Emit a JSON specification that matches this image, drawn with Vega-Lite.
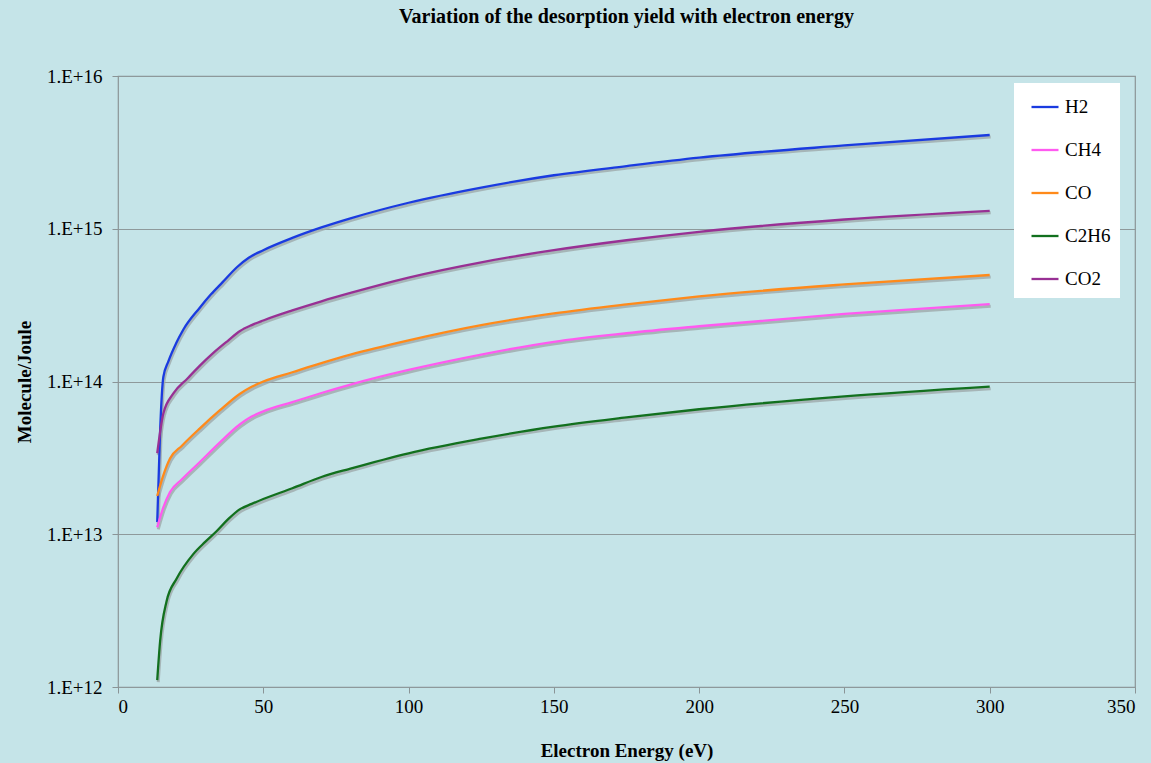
{
  "$schema": "https://vega.github.io/schema/vega-lite/v6.json",
  "width": 1017,
  "height": 611,
  "autosize": "none",
  "padding": {"left": 118, "top": 76, "right": 16, "bottom": 76},
  "background": "#c5e4e8",
  "config": {
    "view": {"stroke": "#8a9496", "strokeWidth": 1.2},
    "font": "Liberation Serif",
    "axis": {"labelFont": "Liberation Serif", "titleFont": "Liberation Serif"},
    "legend": {"labelFont": "Liberation Serif"},
    "title": {"font": "Liberation Serif"}
  },
  "title": {
    "text": "Variation of the desorption yield with electron energy",
    "font": "Liberation Serif",
    "fontSize": 20,
    "fontWeight": "bold",
    "color": "#000000",
    "anchor": "middle",
    "offset": 40
  },
  "data": {
    "values": [
      {"gas": "H2", "energy": 13.5, "yield": 1.20e13},
      {"gas": "H2", "energy": 14.5, "yield": 4.79e13},
      {"gas": "H2", "energy": 15.6, "yield": 1.07e14},
      {"gas": "H2", "energy": 17.3, "yield": 1.35e14},
      {"gas": "H2", "energy": 20, "yield": 1.78e14},
      {"gas": "H2", "energy": 22.5, "yield": 2.19e14},
      {"gas": "H2", "energy": 28, "yield": 3.02e14},
      {"gas": "H2", "energy": 32, "yield": 3.72e14},
      {"gas": "H2", "energy": 36, "yield": 4.47e14},
      {"gas": "H2", "energy": 41, "yield": 5.62e14},
      {"gas": "H2", "energy": 45, "yield": 6.46e14},
      {"gas": "H2", "energy": 50, "yield": 7.24e14},
      {"gas": "H2", "energy": 60, "yield": 8.71e14},
      {"gas": "H2", "energy": 70, "yield": 1.02e15},
      {"gas": "H2", "energy": 80, "yield": 1.17e15},
      {"gas": "H2", "energy": 100, "yield": 1.48e15},
      {"gas": "H2", "energy": 125, "yield": 1.86e15},
      {"gas": "H2", "energy": 150, "yield": 2.24e15},
      {"gas": "H2", "energy": 175, "yield": 2.57e15},
      {"gas": "H2", "energy": 200, "yield": 2.92e15},
      {"gas": "H2", "energy": 250, "yield": 3.51e15},
      {"gas": "H2", "energy": 300, "yield": 4.11e15},

      {"gas": "CH4", "energy": 13.5, "yield": 1.11e13},
      {"gas": "CH4", "energy": 15.5, "yield": 1.48e13},
      {"gas": "CH4", "energy": 17.9, "yield": 1.89e13},
      {"gas": "CH4", "energy": 22, "yield": 2.29e13},
      {"gas": "CH4", "energy": 28, "yield": 2.95e13},
      {"gas": "CH4", "energy": 35, "yield": 3.98e13},
      {"gas": "CH4", "energy": 42, "yield": 5.25e13},
      {"gas": "CH4", "energy": 46, "yield": 5.89e13},
      {"gas": "CH4", "energy": 50, "yield": 6.38e13},
      {"gas": "CH4", "energy": 60, "yield": 7.33e13},
      {"gas": "CH4", "energy": 70, "yield": 8.41e13},
      {"gas": "CH4", "energy": 80, "yield": 9.55e13},
      {"gas": "CH4", "energy": 100, "yield": 1.19e14},
      {"gas": "CH4", "energy": 125, "yield": 1.50e14},
      {"gas": "CH4", "energy": 150, "yield": 1.82e14},
      {"gas": "CH4", "energy": 175, "yield": 2.07e14},
      {"gas": "CH4", "energy": 200, "yield": 2.30e14},
      {"gas": "CH4", "energy": 250, "yield": 2.77e14},
      {"gas": "CH4", "energy": 300, "yield": 3.21e14},

      {"gas": "CO", "energy": 13.5, "yield": 1.78e13},
      {"gas": "CO", "energy": 15.5, "yield": 2.40e13},
      {"gas": "CO", "energy": 17.9, "yield": 3.13e13},
      {"gas": "CO", "energy": 22, "yield": 3.80e13},
      {"gas": "CO", "energy": 28, "yield": 4.90e13},
      {"gas": "CO", "energy": 35, "yield": 6.46e13},
      {"gas": "CO", "energy": 42, "yield": 8.32e13},
      {"gas": "CO", "energy": 46, "yield": 9.23e13},
      {"gas": "CO", "energy": 50, "yield": 1.00e14},
      {"gas": "CO", "energy": 60, "yield": 1.15e14},
      {"gas": "CO", "energy": 70, "yield": 1.32e14},
      {"gas": "CO", "energy": 80, "yield": 1.50e14},
      {"gas": "CO", "energy": 100, "yield": 1.86e14},
      {"gas": "CO", "energy": 125, "yield": 2.34e14},
      {"gas": "CO", "energy": 150, "yield": 2.79e14},
      {"gas": "CO", "energy": 175, "yield": 3.20e14},
      {"gas": "CO", "energy": 200, "yield": 3.61e14},
      {"gas": "CO", "energy": 250, "yield": 4.32e14},
      {"gas": "CO", "energy": 300, "yield": 4.98e14},

      {"gas": "C2H6", "energy": 13.5, "yield": 1.11e12},
      {"gas": "C2H6", "energy": 14.5, "yield": 2.00e12},
      {"gas": "C2H6", "energy": 16.7, "yield": 3.63e12},
      {"gas": "C2H6", "energy": 20.2, "yield": 5.13e12},
      {"gas": "C2H6", "energy": 25.9, "yield": 7.41e12},
      {"gas": "C2H6", "energy": 30, "yield": 8.91e12},
      {"gas": "C2H6", "energy": 34, "yield": 1.05e13},
      {"gas": "C2H6", "energy": 38, "yield": 1.26e13},
      {"gas": "C2H6", "energy": 42, "yield": 1.46e13},
      {"gas": "C2H6", "energy": 46, "yield": 1.58e13},
      {"gas": "C2H6", "energy": 50, "yield": 1.70e13},
      {"gas": "C2H6", "energy": 60, "yield": 2.00e13},
      {"gas": "C2H6", "energy": 70, "yield": 2.37e13},
      {"gas": "C2H6", "energy": 80, "yield": 2.69e13},
      {"gas": "C2H6", "energy": 100, "yield": 3.39e13},
      {"gas": "C2H6", "energy": 125, "yield": 4.22e13},
      {"gas": "C2H6", "energy": 150, "yield": 5.07e13},
      {"gas": "C2H6", "energy": 175, "yield": 5.82e13},
      {"gas": "C2H6", "energy": 200, "yield": 6.58e13},
      {"gas": "C2H6", "energy": 250, "yield": 7.98e13},
      {"gas": "C2H6", "energy": 300, "yield": 9.25e13},

      {"gas": "CO2", "energy": 13.5, "yield": 3.39e13},
      {"gas": "CO2", "energy": 15.6, "yield": 6.17e13},
      {"gas": "CO2", "energy": 19, "yield": 8.32e13},
      {"gas": "CO2", "energy": 24, "yield": 1.05e14},
      {"gas": "CO2", "energy": 28, "yield": 1.26e14},
      {"gas": "CO2", "energy": 33, "yield": 1.55e14},
      {"gas": "CO2", "energy": 38, "yield": 1.86e14},
      {"gas": "CO2", "energy": 42, "yield": 2.14e14},
      {"gas": "CO2", "energy": 46, "yield": 2.34e14},
      {"gas": "CO2", "energy": 50, "yield": 2.51e14},
      {"gas": "CO2", "energy": 60, "yield": 2.92e14},
      {"gas": "CO2", "energy": 70, "yield": 3.35e14},
      {"gas": "CO2", "energy": 80, "yield": 3.80e14},
      {"gas": "CO2", "energy": 100, "yield": 4.79e14},
      {"gas": "CO2", "energy": 125, "yield": 6.03e14},
      {"gas": "CO2", "energy": 150, "yield": 7.24e14},
      {"gas": "CO2", "energy": 175, "yield": 8.41e14},
      {"gas": "CO2", "energy": 200, "yield": 9.55e14},
      {"gas": "CO2", "energy": 250, "yield": 1.15e15},
      {"gas": "CO2", "energy": 300, "yield": 1.31e15}
    ]
  },
  "encoding": {
    "x": {
      "field": "energy",
      "type": "quantitative",
      "scale": {"domain": [0, 350], "nice": false, "zero": false},
      "axis": {
        "title": "Electron Energy (eV)",
        "values": [0, 50, 100, 150, 200, 250, 300, 350],
        "grid": false,
        "domain": false,
        "tickSize": 6,
        "tickColor": "#8a9496",
        "labelFont": "Liberation Serif",
        "labelFontSize": 19,
        "labelColor": "#000000",
        "labelPadding": 4,
        "titleFont": "Liberation Serif",
        "titleFontSize": 19,
        "titleFontWeight": "bold",
        "titleColor": "#000000",
        "titlePadding": 25
      }
    },
    "y": {
      "field": "yield",
      "type": "quantitative",
      "scale": {"type": "log", "domain": [1e12, 1e16], "nice": false},
      "axis": {
        "title": "Molecule/Joule",
        "values": [1e12, 1e13, 1e14, 1e15, 1e16],
        "labelExpr": "'1.E+' + round(log(datum.value) / LN10)",
        "grid": true,
        "gridColor": "#8e999b",
        "gridWidth": 1,
        "domain": false,
        "tickSize": 6,
        "tickColor": "#8a9496",
        "labelFont": "Liberation Serif",
        "labelFontSize": 19,
        "labelColor": "#000000",
        "labelPadding": 10,
        "titleFont": "Liberation Serif",
        "titleFontSize": 19,
        "titleFontWeight": "bold",
        "titleColor": "#000000",
        "titlePadding": 12
      }
    }
  },
  "layer": [
    {
      "mark": {"type": "line", "interpolate": "monotone", "stroke": "#9ba5a7", "strokeWidth": 3, "xOffset": 1, "yOffset": 2, "opacity": 0.75},
      "encoding": {"detail": {"field": "gas"}}
    },
    {
      "mark": {"type": "line", "interpolate": "monotone", "strokeWidth": 2.3},
      "encoding": {
        "color": {
          "field": "gas",
          "type": "nominal",
          "scale": {
            "domain": ["H2", "CH4", "CO", "C2H6", "CO2"],
            "range": ["#1a3be0", "#ff5af0", "#ff8a1a", "#12701e", "#983094"]
          },
          "legend": {
            "orient": "none",
            "legendX": 896,
            "legendY": 7,
            "title": null,
            "fillColor": "#ffffff",
            "padding": 9,
            "symbolType": "stroke",
            "symbolSize": 729,
            "symbolStrokeWidth": 2.3,
            "symbolOffset": 7,
            "labelOffset": 5,
            "labelFont": "Liberation Serif",
            "labelFontSize": 19,
            "labelColor": "#000000",
            "rowPadding": 18
          }
        }
      }
    }
  ]
}
